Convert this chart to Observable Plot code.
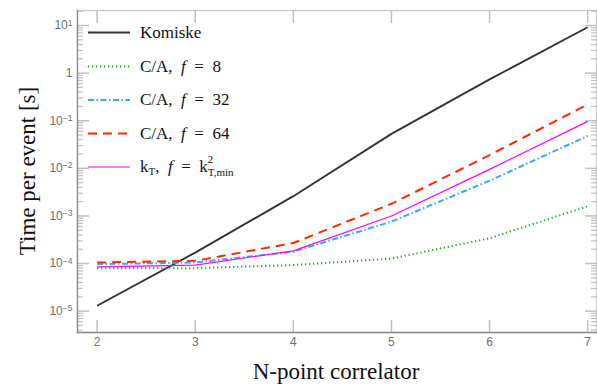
<!DOCTYPE html>
<html><head><meta charset="utf-8">
<script src="https://cdn.jsdelivr.net/npm/d3@7"></script>
<script src="https://cdn.jsdelivr.net/npm/@observablehq/plot@0.6"></script>
<style>
body{margin:0;background:#fff}
#chart svg{display:block;overflow:visible}
</style>
</head><body><div id="chart"></div>
<script>
// ---- data ----
const nPoints = [2, 3, 4, 5, 6, 7];
const komiske = [1.3e-5, 1.7e-4, 2.6e-3, 5.3e-2, 0.74, 9.2];
const ca8     = [8.0e-5, 8.0e-5, 9.3e-5, 1.27e-4, 3.4e-4, 1.6e-3];
const ca32    = [9.7e-5, 1.05e-4, 1.77e-4, 7.6e-4, 5.5e-3, 4.8e-2];
const ca64    = [1.05e-4, 1.14e-4, 2.7e-4, 1.8e-3, 1.9e-2, 0.22];
const kt      = [8.5e-5, 9.3e-5, 1.85e-4, 1.0e-3, 9.5e-3, 9.7e-2];
const seriesNames = ["Komiske", "C/A, f = 8", "C/A, f = 32", "C/A, f = 64", "kT, f = kT,min^2"];
const xTicks = [2, 3, 4, 5, 6, 7];
const yMajorTicks = [1e-5, 1e-4, 1e-3, 1e-2, 1e-1, 1, 10];
const yTickLabels = ["10^-5", "10^-4", "10^-3", "10^-2", "10^-1", "1", "10^1"];
const xLabel = "N-point correlator";
const yLabel = "Time per event [s]";

// ---- styles ----
const seriesValues = [komiske, ca8, ca32, ca64, kt];
const seriesStyle = [
  {stroke: "#333333", strokeWidth: 1.9, dash: null},
  {stroke: "#22b022", strokeWidth: 2, dash: "1.3,2.7"},
  {stroke: "#33aaff", strokeWidth: 2, dash: "6,2.5,1.5,2.5"},
  {stroke: "#ff2a00", strokeWidth: 2, dash: "9,6"},
  {stroke: "#ff00ff", strokeWidth: 1.2, dash: null}
];
const tables = seriesValues.map((vals, i) => vals.map((v, j) => ({n: nPoints[j], t: v, series: seriesNames[i]})));

const yDomain = [3.56e-6, 20.7];
const yMinorTicks = [];
for (let e = -6; e <= 1; e++) for (let m = 2; m <= 9; m++) {
  const v = m * Math.pow(10, e);
  if (v > yDomain[0] && v < yDomain[1]) yMinorTicks.push(v);
}
const tickCol = "#c0c0c0";
const labCol = "#6e6e6e";
const fmt = d => yTickLabels[yMajorTicks.findIndex(t => Math.abs(Math.log10(t) - Math.log10(d)) < 1e-6)];

const plot = Plot.plot({
  width: 597, height: 384,
  marginLeft: 77, marginRight: 1, marginTop: 10, marginBottom: 52,
  style: {fontFamily: "'Liberation Sans', Arial, sans-serif", fontSize: "12px", background: "#fff"},
  x: {domain: [1.8, 7.09]},
  y: {type: "log", domain: yDomain},
  marks: [
    Plot.frame({stroke: "#c8c8c8", strokeWidth: 1.3}),
    Plot.axisY(yMinorTicks, {anchor: "left", tickSize: -6, tickFormat: () => "", stroke: tickCol, strokeWidth: 1.2, label: null}),
    Plot.axisY(yMinorTicks, {anchor: "right", tickSize: -6, tickFormat: () => "", stroke: tickCol, strokeWidth: 1.2, label: null}),
    Plot.axisY(yMajorTicks, {anchor: "left", tickSize: -12, tickPadding: 17, tickFormat: fmt, stroke: tickCol, strokeWidth: 1.5, fill: labCol, fontSize: 12, label: null}),
    Plot.axisY(yMajorTicks, {anchor: "right", tickSize: -12, tickFormat: () => "", stroke: tickCol, strokeWidth: 1.5, label: null}),
    Plot.axisX(xTicks, {anchor: "bottom", tickSize: -12, tickPadding: 17, tickFormat: d => String(d), stroke: tickCol, strokeWidth: 1.5, fill: labCol, fontSize: 12, label: null}),
    Plot.axisX(xTicks, {anchor: "top", tickSize: -12, tickFormat: () => "", stroke: tickCol, strokeWidth: 1.5, label: null}),
    Plot.frame({anchor: "left", stroke: "#8a8a8a", strokeWidth: 1.3}),
    Plot.frame({anchor: "bottom", stroke: "#8a8a8a", strokeWidth: 1.3}),
    ...tables.map((tab, i) => Plot.line(tab, {
      x: "n", y: "t",
      stroke: seriesStyle[i].stroke,
      strokeWidth: seriesStyle[i].strokeWidth,
      strokeDasharray: seriesStyle[i].dash,
      strokeLinecap: "butt"
    }))
  ]
});
document.getElementById("chart").appendChild(plot);

const svg = d3.select(plot);
// superscript tick labels
svg.selectAll('g[aria-label="y-axis tick label"] text').each(function() {
  const t = d3.select(this);
  const s = t.text();
  if (!s || s.indexOf("^") < 0) return;
  const [base, exp] = s.split("^");
  t.text("");
  t.append("tspan").text(base);
  t.append("tspan").attr("dy", "-0.45em").style("font-size", "8.5px").text(exp.replace("-", "\u2212"));
});

const serif = "'Liberation Serif', 'Times New Roman', serif";
// axis titles
svg.append("text").attr("x", 336).attr("y", 379).attr("text-anchor", "middle")
  .style("font-family", serif).style("font-size", "23px").attr("fill", "#111").text(xLabel);
svg.append("text").attr("transform", "translate(35,171) rotate(-90)").attr("text-anchor", "middle")
  .style("font-family", serif).style("font-size", "23px").attr("fill", "#111").text(yLabel);

// legend
const sp = "\u2002";
const lg = svg.append("g").style("font-family", serif).style("font-size", "17px").attr("fill", "#111").attr("text-anchor", "start");
const rowY = [32.5, 66.5, 100, 133.5, 167];
seriesNames.forEach((name, i) => {
  const st = seriesStyle[i];
  lg.append("line").attr("x1", 88).attr("x2", 130).attr("y1", rowY[i]).attr("y2", rowY[i])
    .attr("stroke", st.stroke).attr("stroke-width", st.strokeWidth)
    .attr("stroke-dasharray", st.dash);
  const t = lg.append("text").attr("x", 140).attr("y", rowY[i] + 5).attr("text-anchor", "start");
  if (i === 0) { t.text(name); return; }
  if (i < 4) {
    const parts = name.split(" f = ");
    t.append("tspan").text(parts[0] + sp);
    t.append("tspan").style("font-style", "italic").text("f");
    t.append("tspan").text(sp + "=" + sp + parts[1]);
  } else {
    t.append("tspan").text("k");
    t.append("tspan").style("font-size", "11px").attr("dy", 3).text("T");
    t.append("tspan").attr("dy", -3).text("," + sp);
    t.append("tspan").style("font-style", "italic").text("f");
    t.append("tspan").text(sp + "=" + sp + "k");
    t.append("tspan").style("font-size", "11px").attr("dy", -9).text("2");
    t.append("tspan").style("font-size", "11px").attr("dx", -5.5).attr("dy", 12.5).text("T,min");
  }
});
</script>
</body></html>
